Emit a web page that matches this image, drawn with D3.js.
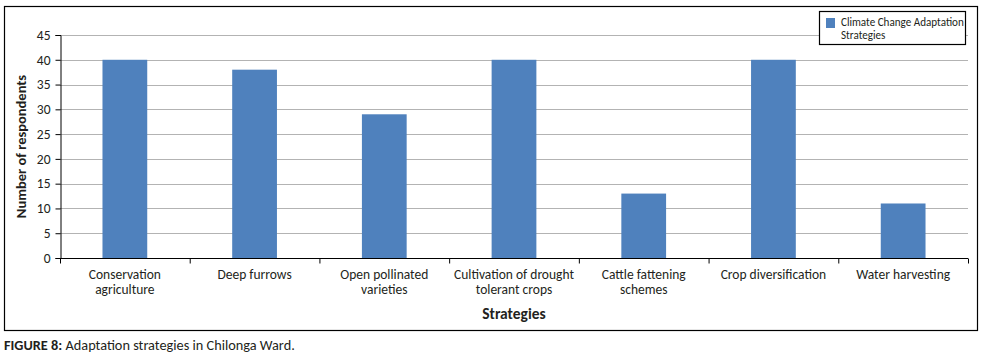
<!DOCTYPE html>
<html>
<head>
<meta charset="utf-8">
<script src="https://cdn.jsdelivr.net/npm/d3@7"></script>
<style>
  body { margin: 0; background: #fff; }
  text { font-family: Carlito, Lato, "Open Sans", sans-serif; fill: #231f20; }
</style>
</head>
<body>
<svg id="chart" width="984" height="357"></svg>
<script>
// Data
const categories = [
  ['Conservation', 'agriculture'],
  ['Deep furrows'],
  ['Open pollinated', 'varieties'],
  ['Cultivation of drought', 'tolerant crops'],
  ['Cattle fattening', 'schemes'],
  ['Crop diversification'],
  ['Water harvesting']
];
const respondents = [40, 38, 29, 40, 13, 40, 11];
const yTicks = [0, 5, 10, 15, 20, 25, 30, 35, 40, 45];
const seriesName = ['Climate Change Adaptation', 'Strategies'];

const svg = d3.select('#chart');
const barColor = '#4f81bd';

// Frame around the chart
svg.append('rect')
  .attr('x', 4.5).attr('y', 6.5)
  .attr('width', 973).attr('height', 324)
  .attr('fill', 'none').attr('stroke', '#000').attr('stroke-width', 1.2);

const plot = { left: 60, right: 968, top: 35, bottom: 258 };

const x = d3.scaleBand()
  .domain(d3.range(categories.length))
  .range([plot.left, plot.right])
  .paddingInner(0.655)
  .paddingOuter(0.3275);

const y = d3.scaleLinear()
  .domain([0, 45])
  .range([plot.bottom, plot.top]);

// Gridlines
svg.append('g')
  .selectAll('line')
  .data(yTicks.filter(d => d > 0))
  .join('line')
  .attr('x1', plot.left).attr('x2', plot.right)
  .attr('y1', d => Math.round(y(d)) + 0.5).attr('y2', d => Math.round(y(d)) + 0.5)
  .attr('stroke', '#b3b3b3').attr('stroke-width', 1);

// Bars
svg.append('g')
  .selectAll('rect')
  .data(respondents)
  .join('rect')
  .attr('x', (d, i) => x(i))
  .attr('width', x.bandwidth())
  .attr('y', d => y(d))
  .attr('height', d => y(0) - y(d))
  .attr('fill', barColor);

// Y axis
const yAxis = svg.append('g')
  .attr('transform', `translate(${plot.left + 0.5},0)`)
  .call(d3.axisLeft(y).tickValues(yTicks).tickSize(5).tickPadding(5));
yAxis.select('.domain').attr('stroke', '#000');
yAxis.selectAll('.tick line').attr('stroke', '#000');
yAxis.selectAll('.tick text').attr('font-size', 13.5).attr('fill', '#231f20');

// X axis (category boundaries as ticks)
const xb = d3.scaleLinear().domain([0, categories.length]).range([plot.left, plot.right]);
const xAxis = svg.append('g')
  .attr('transform', `translate(0,${plot.bottom + 0.5})`)
  .call(d3.axisBottom(xb).ticks(categories.length).tickSize(5).tickFormat(''));
xAxis.select('.domain').attr('stroke', '#000').attr('d', `M${plot.left},0H${plot.right}`);
xAxis.selectAll('.tick line').attr('stroke', '#000');

// Category labels
const labels = svg.append('g')
  .selectAll('text')
  .data(categories)
  .join('text')
  .attr('text-anchor', 'middle')
  .attr('font-size', 13.5);
labels.selectAll('tspan')
  .data((d, i) => d.map(t => ({ t, i })))
  .join('tspan')
  .attr('x', d => x(d.i) + x.bandwidth() / 2)
  .attr('y', (d, j) => 278.5 + j * 15.5)
  .text(d => d.t);

// Axis titles
svg.append('text')
  .attr('x', (plot.left + plot.right) / 2).attr('y', 318.5)
  .attr('text-anchor', 'middle')
  .attr('font-size', 15.5).attr('font-weight', 'bold')
  .text('Strategies');

svg.append('text')
  .attr('transform', `translate(26,${(plot.top + plot.bottom) / 2}) rotate(-90)`)
  .attr('text-anchor', 'middle')
  .attr('font-size', 14.5).attr('font-weight', 'bold')
  .text('Number of respondents');

// Legend
const legend = svg.append('g');
legend.append('rect')
  .attr('x', 819.5).attr('y', 11.5).attr('width', 146).attr('height', 33)
  .attr('fill', '#fff').attr('stroke', '#000').attr('stroke-width', 1.2);
legend.append('rect')
  .attr('x', 826).attr('y', 18).attr('width', 9).attr('height', 10)
  .attr('fill', barColor);
legend.append('text')
  .attr('font-size', 11.1)
  .selectAll('tspan')
  .data(seriesName)
  .join('tspan')
  .attr('x', 841)
  .attr('y', (d, i) => 26 + i * 13)
  .text(d => d);

// Caption
const cap = svg.append('text')
  .attr('x', 4).attr('y', 349.5)
  .attr('font-size', 14.3);
cap.append('tspan').attr('font-weight', 'bold').text('FIGURE 8:');
cap.append('tspan').text(' Adaptation strategies in Chilonga Ward.');
</script>
</body>
</html>
